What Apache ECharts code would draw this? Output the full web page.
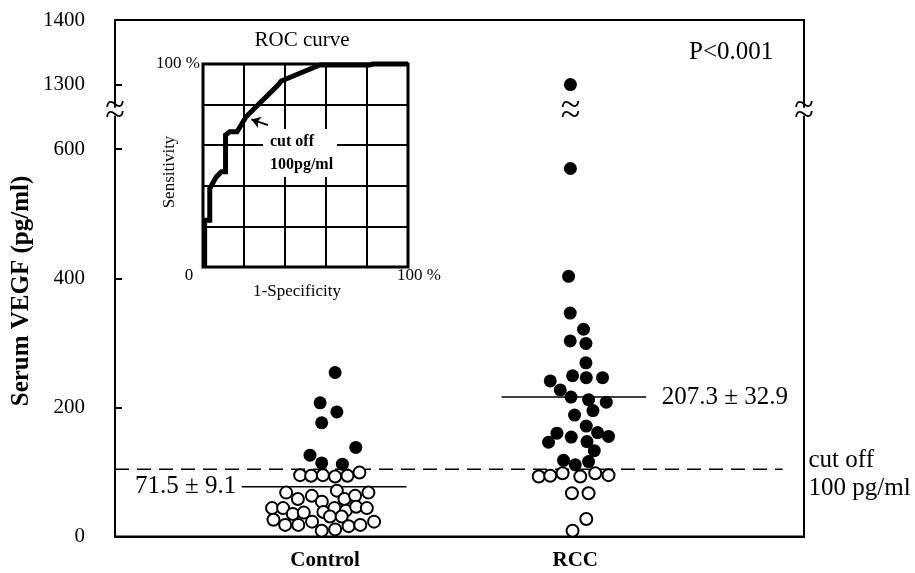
<!DOCTYPE html>
<html><head><meta charset="utf-8">
<script src="https://cdn.jsdelivr.net/npm/echarts@6/dist/echarts.min.js"></script>
<style>html,body{margin:0;padding:0;background:#fff}#c{width:915px;height:573px}</style>
</head><body><div id="c"></div>
<script>
// ---------- data ----------
const categories = ['Control', 'RCC'];
const categoryX = [30.5, 66.8];             // column centres on the hidden x scale
const yTickValues = [0, 200, 400, 600, 1300, 1400];
// [horizontal jitter, value in pg/ml]
const controlFilled = [[1.45,254],[-0.73,207],[1.7,193],[-0.5,176],[4.45,138],[-2.2,126],[-0.5,114],[2.5,112]];
const controlOpen = [[-3.63,95],[-2.03,94],[-0.33,95],[1.45,93],[3.24,94],[4.98,99],
  [-5.66,68],[-3.96,58],[-1.93,63],[-0.48,54],[1.7,71],[2.8,58],[4.35,63],[6.28,68],
  [-7.7,44],[-6.1,44],[-4.7,35],[-3.1,37],[-0.25,38],[1.35,44],[3.0,40],[4.5,46],[6.05,44],
  [-7.5,26],[-5.8,18],[-3.9,18],[-1.9,23],[0.7,31],[2.4,31],[-0.5,9],[1.45,11],[3.4,16],[5.1,18],[7.1,23]];
const rccFilled = [[-0.7,1300],[-0.7,570],[-0.97,403],[-0.73,346],[1.2,321],[-0.73,303],[1.55,299],[1.55,269],
  [-0.39,249],[1.6,246],[3.96,246],[-3.63,241],[-2.18,227],[-0.62,216],[1.93,212],[4.5,208],[2.57,195],
  [-0.1,188],[1.6,171],[-2.66,160],[-0.58,154],[3.24,161],[4.83,155],[-3.88,146],[1.7,147],[2.76,133],
  [-1.7,118],[0,111],[1.93,116]];
const rccOpen = [[-5.3,93],[-3.63,94],[-1.84,98],[0.73,93],[2.9,98],[4.83,95],[-0.48,67],[1.93,67],[1.6,27],[-0.39,9]];
const meanValues = [77, 216];
const meanLabels = ['71.5 ± 9.1', '207.3 ± 32.9'];
const cutoffValue = 104;
const cutoffLabel = 'cut off\n100 pg/ml';
const pValueText = 'P<0.001';
// ROC inset (percent)
const rocFPR = [0.8, 0.8, 3.3, 3.3, 6.5, 9, 11, 11, 13, 16.6, 21, 36.6, 38.2, 57, 81.3, 83, 100];
const rocTPR = [0, 23, 23, 38.7, 44.4, 46.9, 46.9, 65, 66.6, 66.6, 74, 89.6, 91.6, 99.5, 99.5, 100, 100];

// ---------- broken axis helpers ----------
const BREAK_SHIFT = 600;
const toAxis = v => (v > 900 ? v - BREAK_SHIFT : v);
const fromAxis = v => (v > 600 ? v + BREAK_SHIFT : v);
const BREAK_AT = 658;

const FONT = 'Liberation Serif';
const meanHalf = [[-12.1, 11.8], [-10.7, 10.3]];

function pts(list, ci) { return list.map(p => [categoryX[ci] + p[0], toAxis(p[1])]); }

const openStyle = { color: '#fff', borderColor: '#000', borderWidth: 2, opacity: 1 };
const filledStyle = { color: '#000', opacity: 1 };
const hidden = { color: 'transparent', opacity: 1 };
const breakLabel = { show: true, position: 'inside', formatter: '~\n~', color: '#000', fontFamily: FONT, fontSize: 36, lineHeight: 10, opacity: 1 };

const chart = echarts.init(document.getElementById('c'), null, { renderer: 'canvas' });

const series = [
  { type: 'scatter', data: pts(controlOpen, 0), symbolSize: 12, itemStyle: openStyle, z: 3 },
  { type: 'scatter', data: pts(controlFilled, 0), symbolSize: 13, itemStyle: filledStyle, z: 3 },
  { type: 'scatter', data: pts(rccOpen, 1), symbolSize: 12, itemStyle: openStyle, z: 3 },
  { type: 'scatter', data: pts(rccFilled, 1), symbolSize: 13, itemStyle: filledStyle, z: 3 },
  // cutoff line
  { type: 'line', data: [[0, cutoffValue], [96.9, cutoffValue]], symbol: 'none', z: 2,
    lineStyle: { color: '#000', width: 1.5, type: [14, 8] } },
  // mean lines
  ...meanValues.map((m, i) => ({ type: 'line', symbol: 'none', z: 2,
    data: [[categoryX[i] + meanHalf[i][0], m], [categoryX[i] + meanHalf[i][1], m]],
    lineStyle: { color: '#000', width: 1.5 } })),
  // mean labels
  { type: 'scatter', symbolSize: 1, itemStyle: hidden, z: 4,
    data: [
      { value: [categoryX[0] + meanHalf[0][0], meanValues[0]], label: { show: true, position: 'left', distance: 5, formatter: meanLabels[0] } },
      { value: [categoryX[1] + meanHalf[1][1], meanValues[1]], label: { show: true, position: 'right', distance: 15, formatter: meanLabels[1] } }
    ],
    label: { color: '#000', fontFamily: FONT, fontSize: 25, opacity: 1 } },
  // cutoff label
  { type: 'scatter', symbolSize: 1, itemStyle: hidden, z: 4,
    data: [{ value: [100, cutoffValue] }],
    label: { show: true, position: 'right', distance: 4, offset: [0, 5], formatter: cutoffLabel,
      color: '#000', fontFamily: FONT, fontSize: 25, lineHeight: 28, align: 'left', opacity: 1 } },
  // axis break marks
  { type: 'scatter', symbol: 'rect', symbolSize: [18, 8], itemStyle: { color: '#fff', opacity: 1 }, z: 5,
    data: [[0, BREAK_AT], [100, BREAK_AT]], label: breakLabel },
  { type: 'scatter', symbolSize: 1, itemStyle: hidden, z: 5,
    data: [[categoryX[1] - 0.7, BREAK_AT]], label: breakLabel },
  // ROC curve
  { type: 'line', xAxisIndex: 1, yAxisIndex: 1, symbol: 'none', clip: false, z: 6,
    data: rocFPR.map((x, i) => [x, rocTPR[i]]),
    lineStyle: { color: '#000', width: 5, join: 'miter' },
    markLine: { silent: true, symbol: ['none', 'arrow'], symbolSize: 9, label: { show: false },
      lineStyle: { color: '#000', width: 2, type: 'solid' },
      data: [[{ coord: [31.7, 69.9] }, { coord: [23.6, 72.7] }]] } }
];

const txt = (x, y, text, size, extra) => Object.assign({ type: 'text', x, y, z: 100,
  style: Object.assign({ text, fill: '#000', font: `${size}px "${FONT}"`, align: 'left', verticalAlign: 'middle' }, extra || {}) });

const graphics = [
  txt(22, 291, 'Serum VEGF (pg/ml)', 25, { align: 'center', font: `bold 25px "${FONT}"` }),
  txt(689, 52, pValueText, 25),
  txt(302, 40, 'ROC curve', 21, { align: 'center' }),
  txt(200, 64, '100 %', 17, { align: 'right' }),
  txt(189, 276, '0', 17, { align: 'center' }),
  txt(397, 276, '100 %', 17),
  txt(297, 292, '1-Specificity', 17, { align: 'center' }),
  txt(170, 172, 'Sensitivity', 17, { align: 'center' }),
  txt(270, 142, 'cut off', 16, { font: `bold 16px "${FONT}"` }),
  txt(270, 165, '100pg/ml', 16, { font: `bold 16px "${FONT}"` })
].map((g, i) => { if (i === 0 || i === 7) g.rotation = Math.PI / 2; return g; });
// white box behind the inset annotation
graphics.push({ type: 'rect', z: 60, shape: { x: 263, y: 129, width: 74, height: 48 }, style: { fill: '#fff' } });

chart.setOption({
  animation: false,
  backgroundColor: '#fff',
  grid: [
    { left: 115, right: 111, top: 20, bottom: 36.5, show: true, borderColor: '#000', borderWidth: 2, backgroundColor: 'transparent' },
    { left: 203, top: 64, width: 205, height: 203, show: true, borderColor: '#000', borderWidth: 3, backgroundColor: '#fff', z: 5 }
  ],
  xAxis: [
    { type: 'value', gridIndex: 0, min: 0, max: 100, splitLine: { show: false },
      axisLine: { show: true, lineStyle: { color: '#000', width: 2 } }, axisTick: { show: false },
      axisLabel: { customValues: categoryX, formatter: v => categories[categoryX.indexOf(v)] || '',
        color: '#000', fontFamily: FONT, fontSize: 21, fontWeight: 'bold', margin: 14 } },
    { type: 'value', gridIndex: 1, min: 0, max: 100, interval: 20, axisLine: { show: false }, axisTick: { show: false },
      axisLabel: { show: false }, splitLine: { show: true, lineStyle: { color: '#000', width: 2 } }, z: 5 }
  ],
  yAxis: [
    { type: 'value', gridIndex: 0, min: 0, max: 800, interval: 100, splitLine: { show: false },
      axisLine: { show: true, lineStyle: { color: '#000', width: 2 } },
      axisTick: { show: true, inside: true, length: 7, customValues: yTickValues.filter(v => v < 1400).map(toAxis), lineStyle: { color: '#000', width: 2 } },
      axisLabel: { customValues: yTickValues.map(toAxis), formatter: v => String(fromAxis(v)),
        color: '#000', fontFamily: FONT, fontSize: 21, margin: 30 } },
    { type: 'value', gridIndex: 1, min: 0, max: 100, interval: 20, axisLine: { show: false }, axisTick: { show: false },
      axisLabel: { show: false }, splitLine: { show: true, lineStyle: { color: '#000', width: 2 } }, z: 5 }
  ],
  series,
  graphic: graphics
});
</script></body></html>
